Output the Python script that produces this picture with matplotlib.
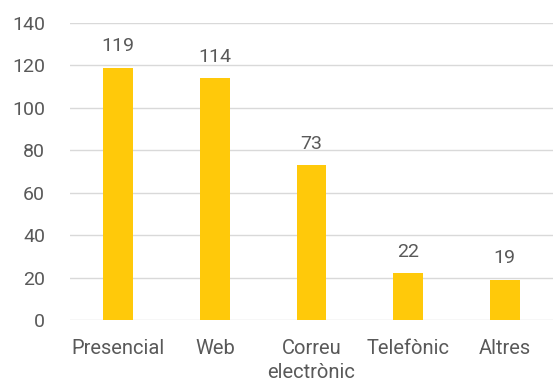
import matplotlib
matplotlib.use("Agg")
import matplotlib.pyplot as plt

categories = ["Presencial", "Web", "Correu\nelectrònic", "Telefònic", "Altres"]
values = [119, 114, 73, 22, 19]
yticks = [0, 20, 40, 60, 80, 100, 120, 140]

plt.rcParams["font.family"] = ["Roboto", "DejaVu Sans"]

fig = plt.figure(figsize=(5.57, 3.83), dpi=100)
ax = fig.add_axes([70 / 557, 1 - 320 / 383, 483 / 557, 297 / 383])

x = range(len(categories))
ax.bar(x, values, width=0.31, color="#FFC90A", zorder=3)
for xi, v in zip(x, values):
    ax.annotate(str(v), (xi, v), xytext=(0, 9), textcoords="offset points",
                ha="center", va="bottom", fontsize=14, color="#595959")

ax.set_xlim(-0.5, len(categories) - 0.5)
ax.set_ylim(0, 140)
ax.set_yticks(yticks)
ax.set_xticks(list(x))
ax.set_xticklabels(categories, fontsize=14.5, color="#595959", linespacing=1.3)
ax.tick_params(axis="y", labelsize=14, labelcolor="#595959", length=0, pad=18)
ax.tick_params(axis="x", length=0, pad=14)

ax.grid(axis="y", color="#D9D9D9", linewidth=1, zorder=0)
for s in ax.spines.values():
    s.set_visible(False)
ax.set_axisbelow(True)

fig.savefig("out.png", dpi=100)
